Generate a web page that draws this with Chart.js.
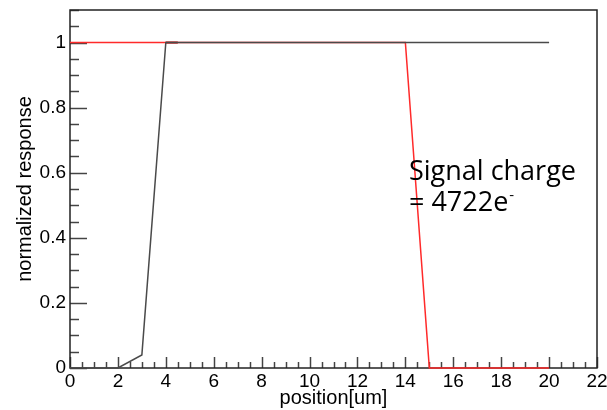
<!DOCTYPE html>
<html>
<head>
<meta charset="utf-8">
<script src="https://cdn.jsdelivr.net/npm/chart.js@4.4.0/dist/chart.umd.min.js"></script>
<style>
    html, body { margin: 0; padding: 0; background: #fff; }
    #wrap { width: 607px; height: 410px; position: relative; }
</style>
</head>
<body>
<div id="wrap"><canvas id="responseChart"></canvas></div>
<script>
// Posición (um) y respuesta normalizada de cada curva
const positions     = [0, 1, 2, 3, 4, 5, 6, 7, 8, 9, 10, 11, 12, 13, 14, 15, 16, 17, 18, 19, 20];
const responseBlack = [0, 0, 0, 0.04, 1, 1, 1, 1, 1, 1, 1, 1, 1, 1, 1, 1, 1, 1, 1, 1, 1];
const responseRed   = [1, 1, 1, 1, 1, 1, 1, 1, 1, 1, 1, 1, 1, 1, 1, 0, 0, 0, 0, 0, 0];

// Tramo corto rojo oscuro sobre la meseta
const edgeX = [4, 4.5];
const edgeY = [1, 1];

// Etiquetas de los ejes
const xTickValues = [0, 2, 4, 6, 8, 10, 12, 14, 16, 18, 20, 22];
const yTickValues = [0, 0.2, 0.4, 0.6, 0.8, 1];

// Texto de la carga de señal
const noteLines = ['Signal charge', '= 4722e'];
const noteSup = '-';
const noteAnchor = { x: 14.15, y: 0.577 };

const TICK_FONT = { family: 'Liberation Sans, Arial, sans-serif', size: 19 };
const TITLE_FONT = { family: 'Liberation Sans, Arial, sans-serif', size: 20 };
const NOTE_FONT = '"Open Sans", Lato, sans-serif';

function toPoints(xs, ys) {
    return xs.map((x, i) => ({ x: x, y: ys[i] }));
}

// Marco y marcas de los ejes hacia dentro (mayores y menores)
const frameTicks = {
    id: 'frameTicks',
    beforeDatasetsDraw(chart) {
        const { ctx, chartArea: a, scales: { x, y } } = chart;
        ctx.save();
        ctx.strokeStyle = '#444';
        ctx.lineWidth = 1.5;

        // marcas del eje x cada 0.5
        for (let i = 0; i <= 44; i++) {
            const v = i * 0.5;
            const px = Math.round(x.getPixelForValue(v)) + 0.5;
            const len = (i % 4 === 0) ? 11 : 6;
            ctx.beginPath();
            ctx.moveTo(px, a.bottom);
            ctx.lineTo(px, a.bottom - len);
            ctx.stroke();
        }
        // marcas del eje y cada 0.05
        for (let i = 0; i <= 22; i++) {
            const v = i * 0.05;
            const py = Math.round(y.getPixelForValue(v)) + 0.5;
            const len = (i % 4 === 0) ? 17 : 9;
            ctx.beginPath();
            ctx.moveTo(a.left, py);
            ctx.lineTo(a.left + len, py);
            ctx.stroke();
        }

        ctx.strokeStyle = '#222';
        ctx.strokeRect(a.left, a.top, a.right - a.left, a.bottom - a.top);
        ctx.restore();
    },
    afterDraw(chart) {
        const { ctx, scales: { x, y } } = chart;
        const px = x.getPixelForValue(noteAnchor.x);
        const py = y.getPixelForValue(noteAnchor.y);
        ctx.save();
        ctx.fillStyle = '#000';
        ctx.textBaseline = 'alphabetic';
        ctx.textAlign = 'left';
        ctx.font = '27px ' + NOTE_FONT;
        ctx.fillText(noteLines[0], px, py);
        ctx.fillText(noteLines[1], px, py + 31);
        const w = ctx.measureText(noteLines[1]).width;
        ctx.font = '15px ' + NOTE_FONT;
        ctx.fillText(noteSup, px + w + 1, py + 31 - 11);
        ctx.restore();
    }
};

const ctx = document.getElementById('responseChart').getContext('2d');
const chart = new Chart(ctx, {
    type: 'line',
    data: {
        datasets: [
            {
                label: 'black',
                data: toPoints(positions, responseBlack),
                borderColor: '#4a4a4a',
                borderWidth: 1.5,
                pointRadius: 0,
                tension: 0,
                clip: false,
                order: 0
            },
            {
                label: 'edge',
                data: toPoints(edgeX, edgeY),
                borderColor: '#a00000',
                borderWidth: 2,
                pointRadius: 0,
                clip: false,
                order: 1
            },
            {
                label: 'red',
                data: toPoints(positions, responseRed),
                borderColor: '#ff2a2a',
                borderWidth: 1.5,
                pointRadius: 0,
                tension: 0,
                clip: false,
                order: 2
            }
        ]
    },
    options: {
        responsive: true,
        maintainAspectRatio: false,
        animation: false,
        devicePixelRatio: 1,
        layout: { padding: { top: 10, right: 10, left: 0, bottom: 0 } },
        plugins: {
            legend: { display: false },
            tooltip: { enabled: false }
        },
        scales: {
            x: {
                type: 'linear',
                min: 0,
                max: 22,
                grid: { display: false, drawTicks: false },
                border: { display: false },
                afterBuildTicks: (scale) => { scale.ticks = xTickValues.map(v => ({ value: v })); },
                afterFit: (scale) => {
                    scale.height = 42;
                    scale.paddingLeft = 0;
                    scale.paddingRight = 0;
                },
                ticks: {
                    autoSkip: false,
                    maxRotation: 0,
                    padding: 2,
                    color: '#000',
                    font: TICK_FONT,
                    callback: (v) => String(v)
                },
                title: {
                    display: true,
                    text: 'position[um]',
                    color: '#000',
                    font: TITLE_FONT,
                    padding: { top: 0, bottom: 0 }
                }
            },
            y: {
                type: 'linear',
                min: 0,
                max: 1.1,
                grid: { display: false, drawTicks: false },
                border: { display: false },
                afterBuildTicks: (scale) => { scale.ticks = yTickValues.map(v => ({ value: v })); },
                afterFit: (scale) => {
                    scale.width = 70;
                    scale.paddingTop = 0;
                    scale.paddingBottom = 0;
                },
                ticks: {
                    autoSkip: false,
                    padding: 4,
                    color: '#000',
                    font: TICK_FONT,
                    callback: (v) => String(v)
                },
                title: {
                    display: true,
                    text: 'normalized response',
                    color: '#000',
                    font: TITLE_FONT,
                    padding: { top: 13, bottom: 0 }
                }
            }
        }
    },
    plugins: [frameTicks]
});
</script>
</body>
</html>
